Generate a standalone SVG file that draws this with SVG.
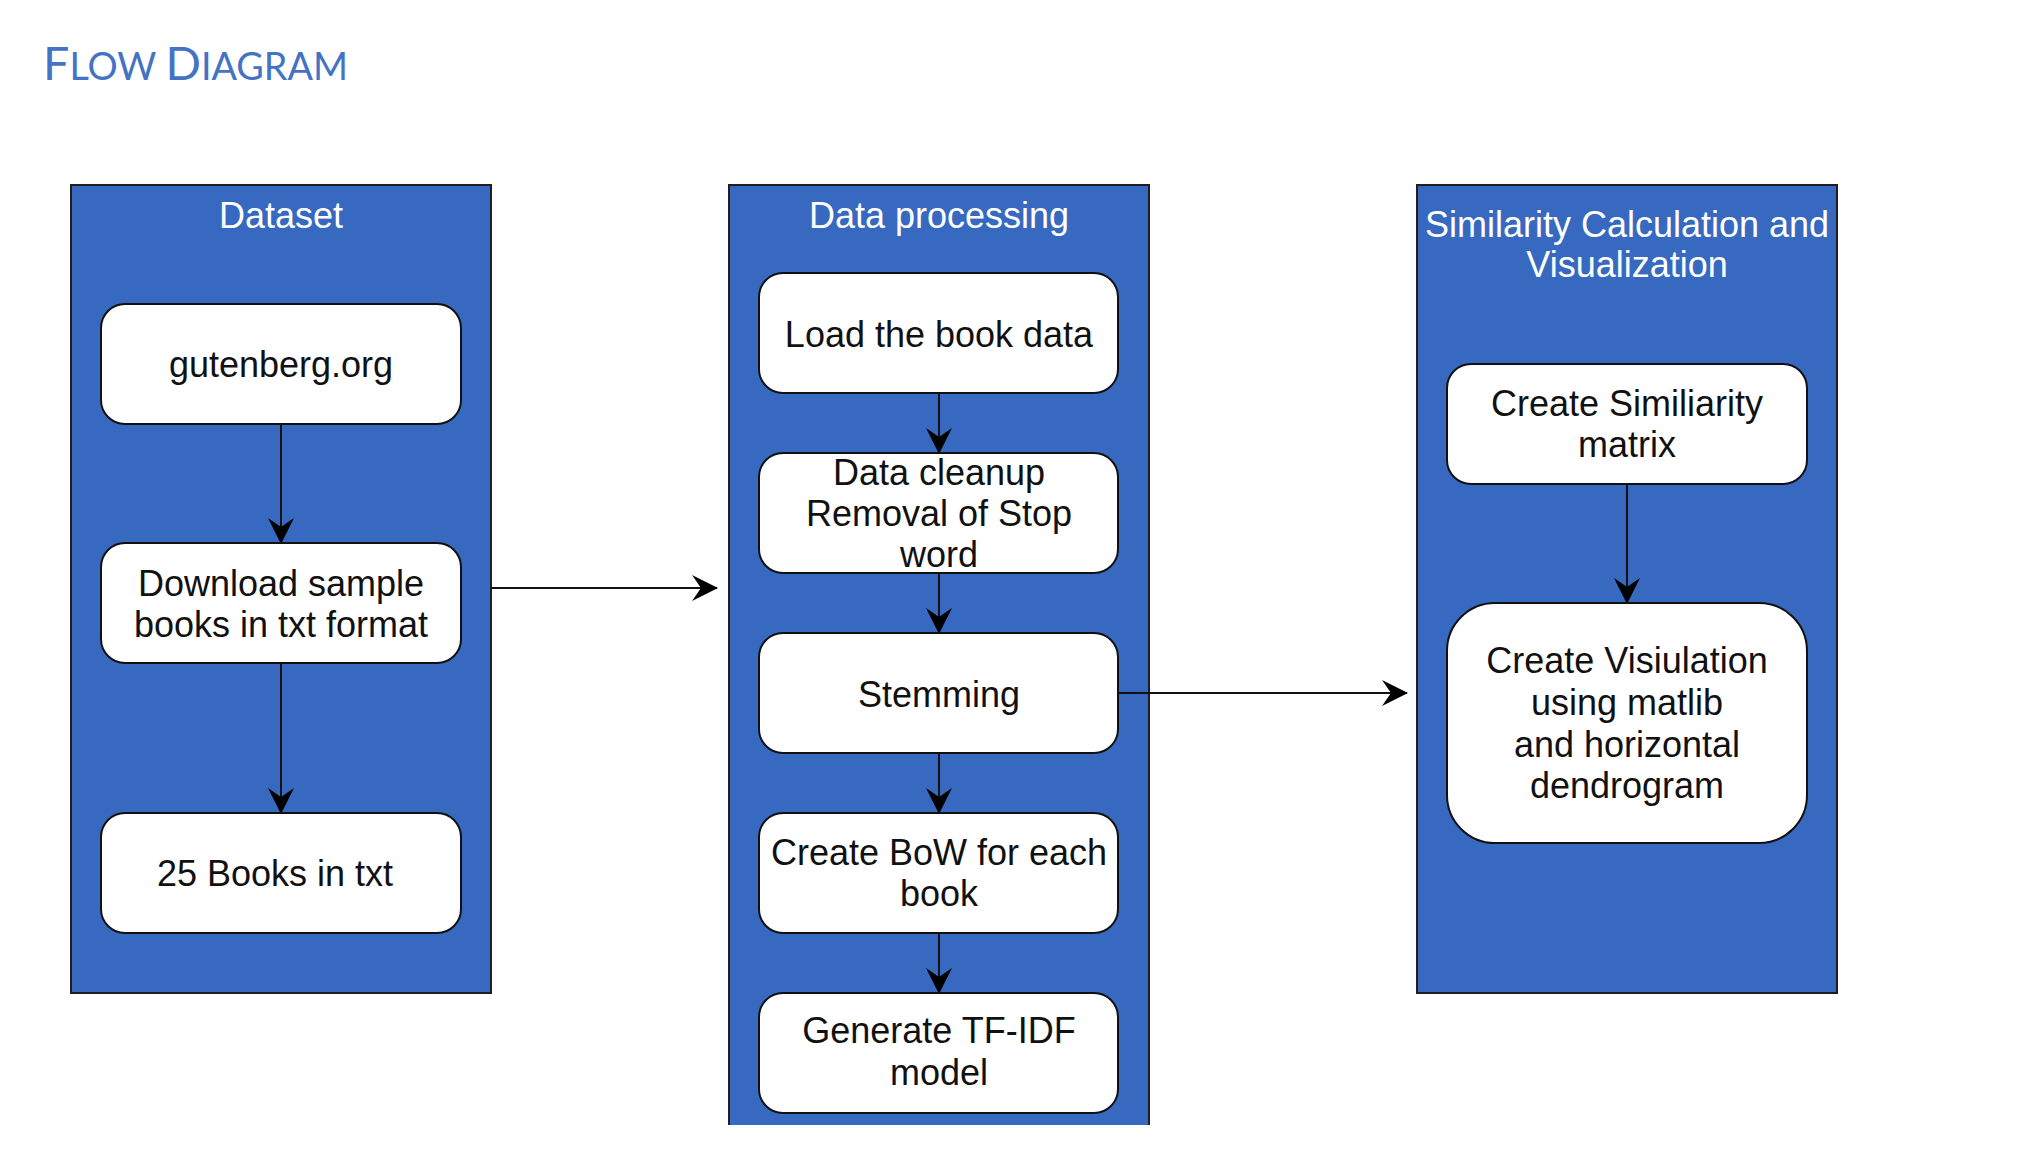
<svg xmlns="http://www.w3.org/2000/svg" width="2024" height="1174" viewBox="0 0 2024 1174">
<style>
.bg{fill:#ffffff}
.container{fill:#3769c0;stroke:#1f1f1f;stroke-width:2}
.cfill{fill:#3769c0}
.cedge{fill:none;stroke:#1f1f1f;stroke-width:2}
.node{fill:#ffffff;stroke:#111111;stroke-width:2}
.ctitle{font-family:"Liberation Sans",Arial,Helvetica,sans-serif;font-size:36px;fill:#ffffff;text-anchor:middle}
.label{font-family:"Liberation Sans",Arial,Helvetica,sans-serif;font-size:36px;fill:#111111;text-anchor:middle}
.edge{fill:none;stroke:#111111;stroke-width:2;marker-end:url(#arrow)}
.heading{font-family:Lato,"Open Sans","Liberation Sans",sans-serif;fill:#4472c4}
</style>
<defs>
<marker id="arrow" markerUnits="userSpaceOnUse" viewBox="0 0 26 26" refX="25" refY="13" markerWidth="26" markerHeight="26" orient="auto">
<path d="M0,0 L26,13 L0,26 L9,13 Z" fill="#000000"/>
</marker>
</defs>
<rect class="bg" x="0" y="0" width="2024" height="1174"/>

<g id="heading">
<text class="heading" x="43" y="80" textLength="305" lengthAdjust="spacingAndGlyphs"><tspan font-size="47">F</tspan><tspan font-size="38">LOW </tspan><tspan font-size="47">D</tspan><tspan font-size="38">IAGRAM</tspan></text>
</g>

<g id="dataset">
<rect class="container" x="71" y="185" width="420" height="808"/>
<text class="ctitle" x="281" y="228">Dataset</text>
</g>

<g id="data-processing">
<rect class="cfill" x="729" y="185" width="420" height="940"/>
<path class="cedge" d="M729,1125 V185 H1149 V1125"/>
<text class="ctitle" x="939" y="228">Data processing</text>
</g>

<g id="similarity">
<rect class="container" x="1417" y="185" width="420" height="808"/>
<text class="ctitle" x="1627" y="237">Similarity Calculation and</text>
<text class="ctitle" x="1627" y="277">Visualization</text>
</g>

<g id="connectors">
<line class="edge" x1="281" y1="424" x2="281" y2="543"/>
<line class="edge" x1="281" y1="663" x2="281" y2="813"/>
<line class="edge" x1="491" y1="588" x2="717" y2="588"/>
<line class="edge" x1="939" y1="393" x2="939" y2="453"/>
<line class="edge" x1="939" y1="573" x2="939" y2="633"/>
<line class="edge" x1="939" y1="753" x2="939" y2="813"/>
<line class="edge" x1="939" y1="932" x2="939" y2="993"/>
<line class="edge" x1="1118" y1="693" x2="1407" y2="693"/>
<line class="edge" x1="1627" y1="484" x2="1627" y2="603"/>
</g>

<g id="gutenberg">
<rect class="node" x="101" y="304" width="360" height="120" rx="24" ry="24"/>
<text class="label" x="281" y="377">gutenberg.org</text>
</g>
<g id="download">
<rect class="node" x="101" y="543" width="360" height="120" rx="24" ry="24"/>
<text class="label" x="281" y="596">Download sample</text>
<text class="label" x="281" y="637">books in txt format</text>
</g>
<g id="books25">
<rect class="node" x="101" y="813" width="360" height="120" rx="24" ry="24"/>
<text class="label" x="275" y="886">25 Books in txt</text>
</g>

<g id="load">
<rect class="node" x="759" y="273" width="359" height="120" rx="24" ry="24"/>
<text class="label" x="939" y="347">Load the book data</text>
</g>
<g id="cleanup">
<rect class="node" x="759" y="453" width="359" height="120" rx="24" ry="24"/>
<text class="label" x="939" y="485">Data cleanup</text>
<text class="label" x="939" y="526">Removal of Stop</text>
<text class="label" x="939" y="567">word</text>
</g>
<g id="stemming">
<rect class="node" x="759" y="633" width="359" height="120" rx="24" ry="24"/>
<text class="label" x="939" y="707">Stemming</text>
</g>
<g id="bow">
<rect class="node" x="759" y="813" width="359" height="120" rx="24" ry="24"/>
<text class="label" x="939" y="865">Create BoW for each</text>
<text class="label" x="939" y="906">book</text>
</g>
<g id="tfidf">
<rect class="node" x="759" y="993" width="359" height="120" rx="24" ry="24"/>
<text class="label" x="939" y="1043">Generate TF-IDF</text>
<text class="label" x="939" y="1085">model</text>
</g>

<g id="simmatrix">
<rect class="node" x="1447" y="364" width="360" height="120" rx="24" ry="24"/>
<text class="label" x="1627" y="416">Create Similiarity</text>
<text class="label" x="1627" y="457">matrix</text>
</g>
<g id="visual">
<rect class="node" x="1447" y="603" width="360" height="240" rx="48" ry="48"/>
<text class="label" x="1627" y="673">Create Visiulation</text>
<text class="label" x="1627" y="715">using matlib</text>
<text class="label" x="1627" y="757">and horizontal</text>
<text class="label" x="1627" y="798">dendrogram</text>
</g>
</svg>
